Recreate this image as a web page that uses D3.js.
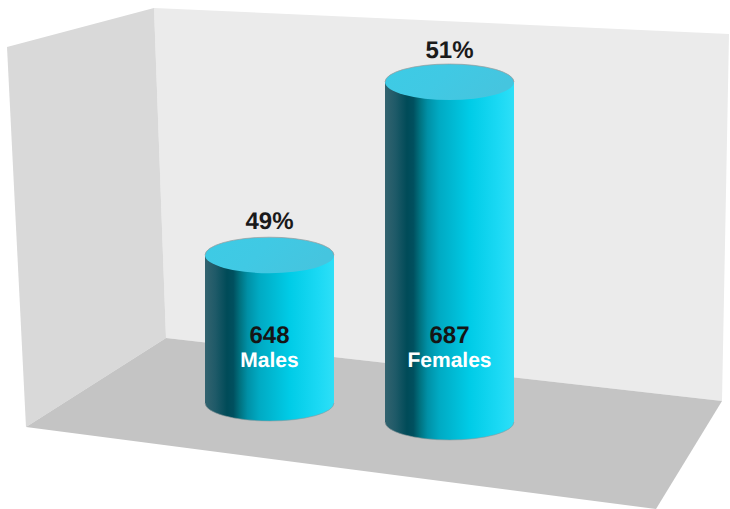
<!DOCTYPE html>
<html><head><meta charset="utf-8">
<script src="https://cdn.jsdelivr.net/npm/d3@7/dist/d3.min.js"></script>
<style>html,body{margin:0;padding:0;background:#fff}svg{display:block}text{font-family:"Liberation Sans",Arial,sans-serif;font-weight:bold;text-anchor:middle;text-rendering:geometricPrecision}</style>
</head><body><svg id="c" width="730" height="509"></svg>
<script>
const categories = ["Males", "Females"];
const counts = [648, 687];
const percents = ["49%", "51%"];
const axisFloor = 618;
const axisTop = 687;

const svg = d3.select("#c");
const W = 729, rx = 64.5, ry = 18;
const x = d3.scalePoint().domain(categories).range([269.5, 449.5]);
const base = d3.scalePoint().domain(categories).range([403, 422]);
const labelGap = d3.scalePoint().domain(categories).range([26, 24]);
const h = d3.scaleLinear().domain([axisFloor, axisTop]).range([0, 340]);

const defs = svg.append("defs");
const sideGrad = defs.append("linearGradient").attr("id", "side");
[[0,"#33636f"],[.08,"#1f5a68"],[.17,"#004b58"],[.22,"#00505f"],[.27,"#00717f"],[.33,"#0090a6"],[.42,"#00aac3"],[.66,"#00cce7"],[.88,"#1bd9f4"],[1,"#2edff7"]]
  .forEach(s => sideGrad.append("stop").attr("offset", s[0]).attr("stop-color", s[1]));
const topGrad = defs.append("linearGradient").attr("id", "capFill").attr("x1",0).attr("x2",1).attr("y1",0).attr("y2",.3);
[[0,"#3dcbe5"],[.5,"#40c9e4"],[1,"#45c5df"]]
  .forEach(s => topGrad.append("stop").attr("offset", s[0]).attr("stop-color", s[1]));

const poly = (pts, fill) => svg.append("path").attr("d", d3.line()(pts) + "Z").attr("fill", fill);
poly([[154,8],[W,34],[722,401],[166,338]], "#ebebeb");
poly([[7,47],[154,8],[166,338],[26,427]], "#d9d9d9");
poly([[166,338],[722,401],[656,509],[26,427]], "#c4c4c4");

const g = svg.selectAll("g.bar").data(categories.map((c,i)=>({c, v:counts[i], p:percents[i]}))).join("g").attr("class","bar");
g.append("path")
  .attr("d", d => {
    const cx = x(d.c), by = base(d.c), ty = by - h(d.v);
    return `M${cx-rx},${ty}L${cx-rx},${by}A${rx},${ry} 0 0 0 ${cx+rx},${by}L${cx+rx},${ty}Z`;
  })
  .attr("fill", "url(#side)");
g.append("path")
  .attr("d", d => {
    const cx = x(d.c), by = base(d.c);
    return `M${cx-rx},${by}A${rx},${ry} 0 0 0 ${cx+rx},${by}`;
  })
  .attr("fill", "none").attr("stroke", "#8f9a9c").attr("stroke-width", 1).attr("stroke-opacity", .6);
g.append("ellipse")
  .attr("cx", d => x(d.c)).attr("cy", d => base(d.c) - h(d.v))
  .attr("rx", rx).attr("ry", ry).attr("fill", "url(#capFill)");
g.append("path")
  .attr("d", d => {
    const cx = x(d.c), ty = base(d.c) - h(d.v);
    return `M${cx-rx},${ty}A${rx},${ry} 0 0 1 ${cx+rx},${ty}`;
  })
  .attr("fill", "none").attr("stroke", "#9a9a9a").attr("stroke-width", 1).attr("stroke-opacity", .7);
g.append("text").text(d => d.p)
  .attr("x", d => x(d.c)).attr("y", d => base(d.c) - h(d.v) - labelGap(d.c))
  .attr("font-size", 24).attr("fill", "#1a1a1a");
g.append("text").text(d => d.v)
  .attr("x", d => x(d.c)).attr("y", 343)
  .attr("font-size", 24).attr("fill", "#151515");
g.append("text").text(d => d.c)
  .attr("x", d => x(d.c)).attr("y", 367)
  .attr("font-size", 21).attr("fill", "#ffffff");
</script></body></html>
